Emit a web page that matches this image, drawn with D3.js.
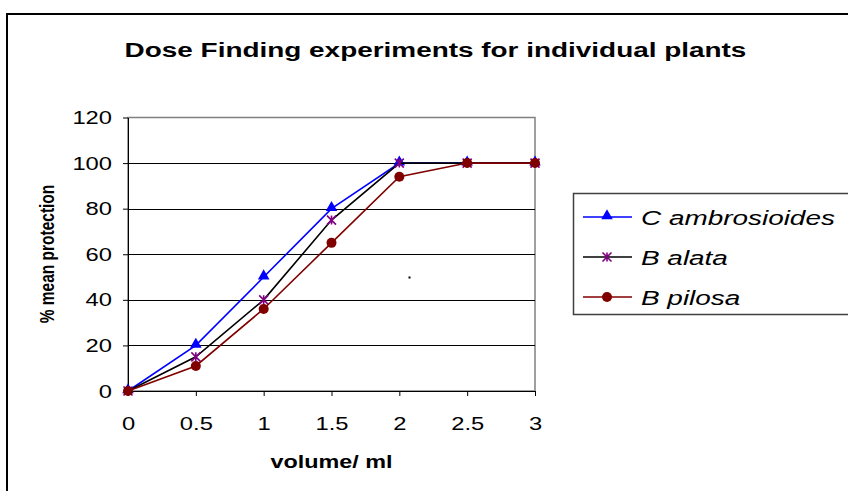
<!DOCTYPE html>
<html>
<head>
<meta charset="utf-8">
<script src="https://cdn.jsdelivr.net/npm/d3@7"></script>
<style>
    body { margin: 0; background: #fff; }
    svg { display: block; font-family: "Liberation Sans", Arial, sans-serif; }
</style>
</head>
<body>
<svg id="chart" width="848" height="491"></svg>
<script>
// values
const volumes = [0, 0.5, 1, 1.5, 2, 2.5, 3]
const cAmbrosioides = [0, 20, 50, 80, 100, 100, 100]
const bAlata = [0, 15, 40, 75, 100, 100, 100]
const bPilosa = [0, 11, 36, 65, 94, 100, 100]
const seriesNames = ["C ambrosioides", "B alata", "B pilosa"]
const yTicks = [0, 20, 40, 60, 80, 100, 120]
const xTicks = [0, 0.5, 1, 1.5, 2, 2.5, 3]

function setup_DoseChart() {
    let svg = d3.select("#chart")
    let width = 848, height = 491

    // the picture is stretched sideways, so text gets the same stretch
    const stretch = 1.33
    const tickStretch = 1.25

    const lineColors = ["#0000ff", "#000000", "#800000"]
    const markerColors = ["#0000ff", "#800080", "#800000"]
    const allSeries = [cAmbrosioides, bAlata, bPilosa]

    let x = d3.scaleLinear().domain([0, 3]).range([128, 535])
    let y = d3.scaleLinear().domain([0, 120]).range([391, 117.5])

    svg.append("rect").attr("width", width).attr("height", height).attr("fill", "#fff")

    // outer frame (only left and top edges are inside the picture)
    svg.append("path")
        .attr("d", "M7," + (height + 5) + "V14H" + (width + 5))
        .attr("fill", "none")
        .attr("stroke", "#000")
        .attr("stroke-width", 2)

    svg.append("text")
        .attr("transform", "translate(435.5,57) scale(" + stretch + ",1)")
        .attr("text-anchor", "middle")
        .style("font-size", "21px")
        .style("font-weight", "bold")
        .text("Dose Finding experiments for individual plants")

    // plot area border
    svg.append("rect")
        .attr("x", x(0)).attr("y", y(120))
        .attr("width", x(3) - x(0)).attr("height", y(0) - y(120))
        .attr("fill", "none")
        .attr("stroke", "#808080")
        .attr("stroke-width", 1.5)

    svg.selectAll(".grid")
        .data(yTicks.filter(d => d > 0 && d < 120))
        .enter()
        .append("line")
        .attr("class", "grid")
        .attr("x1", x(0)).attr("x2", x(3))
        .attr("y1", d => Math.round(y(d)) + 0.5)
        .attr("y2", d => Math.round(y(d)) + 0.5)
        .attr("stroke", "#000")

    let yAxis = svg.append("g")
        .attr("transform", "translate(" + x(0) + ",0)")
        .call(d3.axisLeft(y).tickValues(yTicks).tickSize(5).tickSizeOuter(0))
    let xAxis = svg.append("g")
        .attr("transform", "translate(0," + y(0) + ")")
        .call(d3.axisBottom(x).tickValues(xTicks).tickSize(5).tickSizeOuter(0).tickFormat(d3.format("")))

    yAxis.selectAll("path, line").attr("stroke", "#000")
    xAxis.selectAll("path, line").attr("stroke", "#000")

    yAxis.selectAll("text")
        .style("font-size", "19px")
        .style("font-family", "Liberation Sans, Arial, sans-serif")
        .attr("fill", "#000")
        .attr("x", 0)
        .attr("transform", "translate(-16,0) scale(" + tickStretch + ",1)")
    xAxis.selectAll("text")
        .style("font-size", "19px")
        .style("font-family", "Liberation Sans, Arial, sans-serif")
        .attr("fill", "#000")
        .attr("y", 25.5)
        .attr("transform", "scale(" + tickStretch + ",1)")

    svg.append("text")
        .attr("transform", "translate(331.5,468) scale(1.3,1)")
        .attr("text-anchor", "middle")
        .style("font-size", "18px")
        .style("font-weight", "bold")
        .text("volume/ ml")

    svg.append("text")
        .attr("transform", "translate(53.5,254) scale(1.3,1) rotate(-90)")
        .attr("text-anchor", "middle")
        .style("font-size", "15.5px")
        .style("font-weight", "bold")
        .text("% mean protection")

    // stray dot in the plot area
    svg.append("rect")
        .attr("x", 408.5).attr("y", 276.5).attr("width", 2).attr("height", 2)
        .attr("fill", "#000")

    function drawMarker(g, i, cx, cy) {
        if (i === 0) {
            g.append("path")
                .attr("d", d3.symbol(d3.symbolTriangle, 58)())
                .attr("transform", "translate(" + cx + "," + (cy - 1) + ")")
                .attr("fill", markerColors[i])
        } else if (i === 1) {
            let s = 4.5
            g.append("path")
                .attr("d", "M" + (-s) + "," + (-s) + "L" + s + "," + s +
                    "M" + (-s) + "," + s + "L" + s + "," + (-s) +
                    "M0," + (-s) + "V" + s)
                .attr("transform", "translate(" + cx + "," + cy + ")")
                .attr("stroke", markerColors[i])
                .attr("stroke-width", 1.6)
                .attr("fill", "none")
        } else {
            g.append("circle")
                .attr("cx", cx).attr("cy", cy).attr("r", 5)
                .attr("fill", markerColors[i])
        }
    }

    let line = d3.line()
        .x(function (d, i) { return x(volumes[i]) })
        .y(function (d) { return y(d) })

    allSeries.forEach(function (values, i) {
        let g = svg.append("g").attr("class", "series")
        g.append("path")
            .attr("d", line(values))
            .attr("fill", "none")
            .attr("stroke", lineColors[i])
            .attr("stroke-width", 1.6)
        values.forEach(function (v, j) {
            drawMarker(g, i, x(volumes[j]), y(v))
        })
    })

    // legend
    svg.append("rect")
        .attr("x", 573.5).attr("y", 193.5)
        .attr("width", 300).attr("height", 121)
        .attr("fill", "#fff")
        .attr("stroke", "#404040")
        .attr("stroke-width", 1.5)

    seriesNames.forEach(function (name, i) {
        let rowY = 217 + i * 40
        let g = svg.append("g")
        g.append("line")
            .attr("x1", 583).attr("x2", 632)
            .attr("y1", rowY).attr("y2", rowY)
            .attr("stroke", lineColors[i])
            .attr("stroke-width", 1.6)
        drawMarker(g, i, 607, rowY)
        g.append("text")
            .attr("transform", "translate(641," + (rowY + 7.5) + ") scale(" + stretch + ",1)")
            .style("font-size", "21px")
            .style("font-style", "italic")
            .text(name)
    })
}

setup_DoseChart()
</script>
</body>
</html>
